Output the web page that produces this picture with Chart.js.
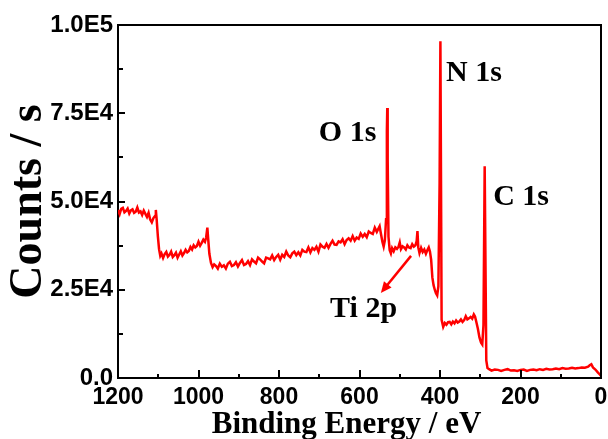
<!DOCTYPE html>
<html>
<head>
<meta charset="utf-8">
<title>XPS survey spectrum</title>
<script src="https://cdn.jsdelivr.net/npm/chart.js@4.4.1/dist/chart.umd.min.js"></script>
<style>
    html, body { margin: 0; padding: 0; background: #ffffff; }
    #chartBox { width: 608px; height: 439px; }
</style>
</head>
<body>
<div id="chartBox"><canvas id="xpsChart" width="608" height="439"></canvas></div>
<script>
// ============================================
// XPS SURVEY SPECTRUM
// ============================================

// Binding energy (eV), high to low as recorded
var bindingEnergy = [
    1200, 1196, 1192, 1188, 1184, 1180, 1176, 1172, 1168, 1164, 1160, 1156, 1152, 1148, 1144, 1140,
    1136, 1132, 1128, 1124, 1120, 1116, 1112, 1108, 1106, 1104, 1101, 1098, 1095,
    1092, 1088, 1084, 1080, 1076, 1072, 1068, 1064, 1060, 1056, 1052, 1048, 1044, 1040, 1036, 1032,
    1028, 1024, 1020, 1016, 1012, 1008, 1004, 1000, 996, 992, 988, 984, 981, 978, 976, 973, 969, 965, 961,
    957, 952, 947, 942, 937, 932, 927, 922, 917, 912, 907, 902, 897, 892, 887, 882, 877, 872, 867, 862,
    857, 852, 847, 842, 837, 832, 827, 822, 817, 812, 807, 802, 797, 792, 787, 782, 777, 772, 767, 762,
    757, 752, 747, 742, 737, 732, 727, 722, 717, 712, 707, 702, 697, 692, 687, 682, 677, 672, 667, 662,
    657, 652, 647, 642, 637, 632, 627, 622, 617, 612, 607, 602, 597, 592, 587, 582, 577, 572, 567, 562,
    557, 553, 550, 547, 543, 540, 537,
    534, 532, 531, 530, 528, 525, 522,
    519, 515, 511, 507, 503, 500, 497, 493, 489, 485, 481, 477, 473, 469, 465, 461, 458, 456, 454, 451,
    447, 443, 439, 435, 431, 428, 425, 422, 419, 416, 413, 410, 407, 404,
    401, 399, 396, 392,
    388, 384, 380, 376, 372, 368, 364, 360, 356, 352, 348, 344, 340, 336, 332, 328, 324, 320, 316, 313,
    310, 306, 302, 298, 295,
    292, 289, 285, 282,
    278, 272, 264, 256, 248, 240, 232, 224, 216, 208, 200, 192, 184, 176, 168, 160, 152, 144, 136, 128,
    120, 112, 104, 96, 88, 80, 72, 64, 56, 48, 40, 32, 28, 24, 20, 14, 8, 3, 0
];

// Intensity in thousands of counts per second, one per energy above
var countsK = [
    47.6, 46.4, 47.9, 48.2, 46.9, 47.3, 48.0, 46.6, 47.5, 47.8, 46.8, 47.1, 48.3, 46.9, 47.2, 46.2,
    47.4, 46.5, 45.6, 46.8, 44.9, 44.1, 45.3, 45.9, 47.6, 45.0, 40.2, 36.5, 34.6,
    35.3, 34.0, 35.1, 35.7, 34.4, 34.9, 35.8, 34.3, 34.8, 35.5, 34.1, 35.0, 35.9, 34.7, 35.4, 36.3,
    35.6, 36.0, 37.1, 36.4, 37.6, 37.0, 37.4, 38.6, 37.5, 38.3, 39.2, 38.6, 39.8, 42.6, 39.5, 35.2, 32.6, 31.4, 32.2,
    31.8, 31.0, 32.4, 31.5, 31.9, 31.0, 32.4, 32.9, 31.7, 32.0, 32.8, 31.6, 32.6, 33.4, 32.0, 32.3, 33.1, 32.0, 33.6, 33.0,
    32.5, 34.1, 33.6, 33.0, 32.5, 34.1, 33.9, 33.6, 34.7, 33.4, 34.3, 34.9, 33.5, 34.9, 34.3, 35.8, 34.7, 34.2, 35.3, 35.8,
    34.8, 35.6, 34.7, 36.3, 35.8, 35.7, 37.0, 35.6, 36.8, 36.3, 37.2, 35.8, 37.8, 37.2, 36.9, 38.0, 36.9, 38.0, 38.9, 37.8,
    37.7, 38.7, 38.4, 39.3, 37.9, 39.1, 39.6, 38.9, 40.2, 38.9, 39.8, 39.4, 40.9, 40.0, 40.8, 39.9, 41.5, 41.1, 40.8, 42.6,
    41.4, 42.3, 43.0, 41.0, 38.5, 37.2, 39.0,
    45.0, 70.0, 76.5, 62.0, 40.0, 36.2, 35.3,
    36.8, 35.9, 37.0, 36.6, 37.2, 38.4, 36.5, 37.3, 37.0, 36.4, 37.6, 37.0, 36.8, 37.9, 37.2, 37.6, 38.8, 41.6, 37.0, 35.4,
    36.9, 35.7, 36.4, 35.2, 36.3, 37.0, 35.8, 33.5, 28.5, 26.3, 25.0, 24.0, 23.4, 26.0,
    55.0, 95.4, 16.5, 14.5,
    15.6, 15.1, 15.8, 15.9, 15.2, 16.0, 15.5, 16.3, 15.7, 16.0, 16.6, 15.9, 16.4, 17.5, 16.6, 16.9, 17.3, 16.8, 18.0, 17.4,
    16.0, 14.0, 11.5, 10.0, 9.5,
    15.0, 60.0, 5.0, 2.8,
    2.5, 2.1, 2.4, 2.3, 2.0, 2.3, 2.5, 2.1, 2.2, 2.0, 2.3, 2.4, 2.0, 2.3, 2.4, 2.2, 2.5, 2.3, 2.6, 2.4,
    2.5, 2.7, 2.5, 2.8, 2.6, 2.7, 2.9, 2.7, 2.8, 3.0, 2.9, 3.2, 3.6, 3.9, 3.0, 2.4, 1.6, 1.0, 0.6
];

// Peak assignments written on the plot
var peakNames = ['O 1s', 'N 1s', 'C 1s', 'Ti 2p'];

// Axis titles
var xTitle = 'Binding Energy / eV';
var yTitle = 'Counts / s';

var SERIF = '"Liberation Serif", "Times New Roman", serif';
var SANS = '"Liberation Sans", Arial, sans-serif';

function buildPoints() {
    var pts = [];
    for (var i = 0; i < bindingEnergy.length; i++) {
        pts.push({ x: bindingEnergy[i], y: countsK[i] * 1000 });
    }
    return pts;
}

function yTickLabel(v) {
    if (v % 25000 !== 0) return '';
    if (v === 0) return '0.0';
    return v.toExponential(1).replace('e+', 'E');
}

// Inward tick marks, closed frame, peak labels and the Ti 2p arrow
var decorPlugin = {
    id: 'decor',
    afterDraw: function(chart) {
        var ctx = chart.ctx;
        var area = chart.chartArea;
        var xs = chart.scales.x;
        var ys = chart.scales.y;

        ctx.save();
        ctx.strokeStyle = '#000';
        ctx.lineWidth = 2;

        // x ticks point up into the plot
        xs.ticks.forEach(function(t) {
            var px = Math.round(xs.getPixelForValue(t.value));
            var len = (t.value % 200 === 0) ? 8 : 4;
            ctx.beginPath();
            ctx.moveTo(px, area.bottom);
            ctx.lineTo(px, area.bottom - len);
            ctx.stroke();
        });

        // y ticks point right into the plot
        ys.ticks.forEach(function(t) {
            var py = Math.round(ys.getPixelForValue(t.value));
            var len = (t.value % 25000 === 0) ? 7 : 5;
            ctx.beginPath();
            ctx.moveTo(area.left, py);
            ctx.lineTo(area.left + len, py);
            ctx.stroke();
        });

        // top and right edges of the frame
        ctx.beginPath();
        ctx.moveTo(area.left - 1, area.top);
        ctx.lineTo(area.right, area.top);
        ctx.lineTo(area.right, area.bottom + 1);
        ctx.stroke();

        // peak labels, anchored in data units
        var anchors = [[701, 67000], [385, 84000], [268, 49100], [673, 17300]];
        ctx.fillStyle = '#000';
        ctx.font = 'bold 30px ' + SERIF;
        ctx.textAlign = 'left';
        ctx.textBaseline = 'alphabetic';
        for (var i = 0; i < peakNames.length; i++) {
            ctx.fillText(peakNames[i], xs.getPixelForValue(anchors[i][0]), ys.getPixelForValue(anchors[i][1]));
        }

        // arrow from the Ti 2p shoulder down to its label
        var x0 = xs.getPixelForValue(472), y0 = ys.getPixelForValue(34600);
        var x1 = xs.getPixelForValue(547), y1 = ys.getPixelForValue(24100);
        var ang = Math.atan2(y1 - y0, x1 - x0);
        var head = 12;
        ctx.strokeStyle = '#ff0000';
        ctx.fillStyle = '#ff0000';
        ctx.lineWidth = 2.5;
        ctx.beginPath();
        ctx.moveTo(x0, y0);
        ctx.lineTo(x1 - Math.cos(ang) * head * 0.8, y1 - Math.sin(ang) * head * 0.8);
        ctx.stroke();
        ctx.beginPath();
        ctx.moveTo(x1, y1);
        ctx.lineTo(x1 - head * Math.cos(ang - 0.42), y1 - head * Math.sin(ang - 0.42));
        ctx.lineTo(x1 - head * Math.cos(ang + 0.42), y1 - head * Math.sin(ang + 0.42));
        ctx.closePath();
        ctx.fill();

        // x axis title
        ctx.fillStyle = '#000';
        ctx.font = 'bold 31px ' + SERIF;
        ctx.textAlign = 'center';
        ctx.fillText(xTitle, (area.left + area.right) / 2 - 13, 433);

        ctx.restore();
    }
};

// keep the plot box fixed: no extra room reserved for end labels
function fixX(scale) {
    scale.height = 61;
    scale.paddingLeft = 0;
    scale.paddingRight = 0;
}

function fixY(scale) {
    scale.width = 118;
    scale.paddingTop = 0;
    scale.paddingBottom = 0;
}

var xpsChart = new Chart(document.getElementById('xpsChart').getContext('2d'), {
    type: 'line',
    data: {
        datasets: [{
            data: buildPoints(),
            borderColor: '#ff0000',
            borderWidth: 2.5,
            pointRadius: 0,
            tension: 0,
            fill: false
        }]
    },
    options: {
        responsive: false,
        animation: false,
        layout: { padding: { top: 25, right: 7, left: 0, bottom: 0 } },
        plugins: {
            legend: { display: false },
            tooltip: { enabled: false }
        },
        scales: {
            x: {
                type: 'linear',
                reverse: true,
                min: 0,
                max: 1200,
                grid: { display: false, drawTicks: false },
                border: { display: true, color: '#000', width: 2 },
                ticks: {
                    stepSize: 100,
                    autoSkip: false,
                    maxRotation: 0,
                    padding: 6,
                    color: '#000',
                    font: { family: SANS, size: 23, weight: 'bold' },
                    callback: function(v) { return v % 200 === 0 ? String(v) : ''; }
                },
                afterFit: fixX
            },
            y: {
                min: 0,
                max: 100000,
                grid: { display: false, drawTicks: false },
                border: { display: true, color: '#000', width: 2 },
                ticks: {
                    stepSize: 12500,
                    autoSkip: false,
                    padding: 5,
                    color: '#000',
                    font: { family: SANS, size: 24, weight: 'bold' },
                    callback: yTickLabel
                },
                title: {
                    display: true,
                    text: yTitle,
                    color: '#000',
                    font: { family: SERIF, size: 46, weight: 'bold' },
                    padding: { top: 2, bottom: 0 }
                },
                afterFit: fixY
            }
        }
    },
    plugins: [decorPlugin]
});
</script>
</body>
</html>
